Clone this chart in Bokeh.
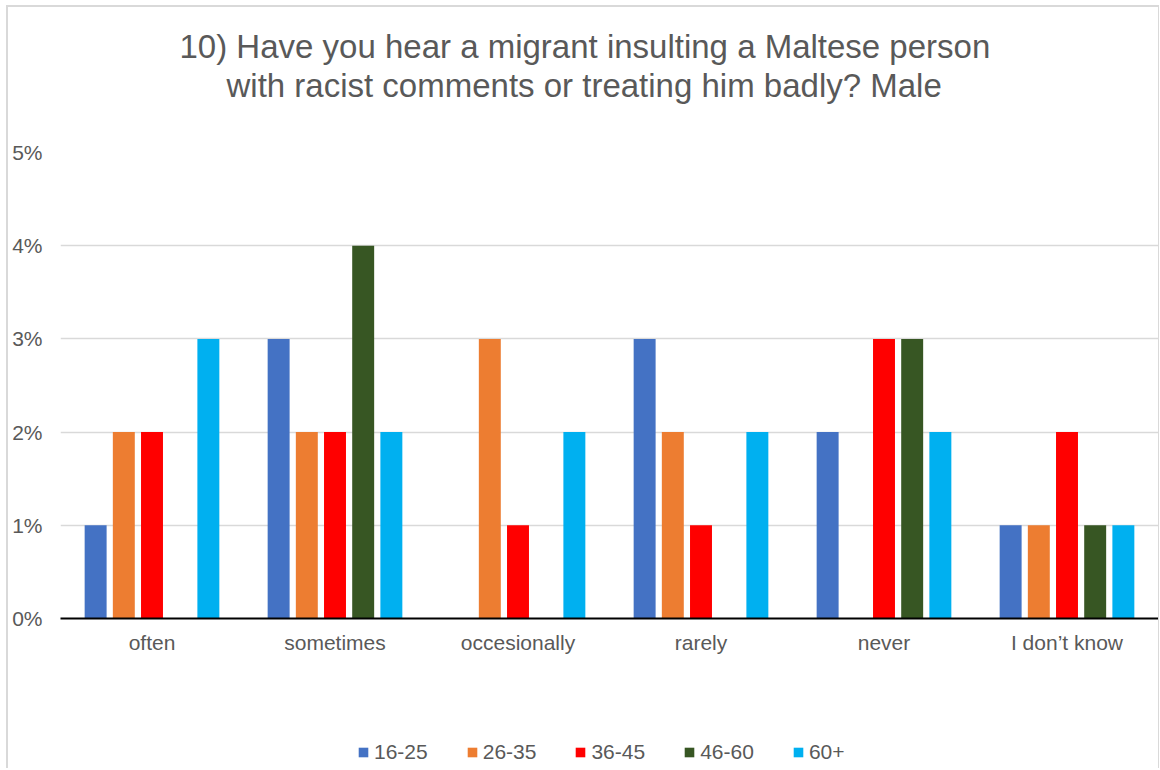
from bokeh.plotting import figure
from bokeh.layouts import column
from bokeh.models import (FactorRange, ColumnDataSource, Legend, LegendItem, Title,
                          NumeralTickFormatter, FixedTicker, Range1d)
from bokeh.transform import dodge
from bokeh.embed import file_html
from bokeh.resources import INLINE

categories = ["often", "sometimes", "occesionally", "rarely", "never", "I don\u2019t know"]
series_names = ["16-25", "26-35", "36-45", "46-60", "60+"]
v_16_25 = [1, 3, 0, 3, 2, 1]
v_26_35 = [2, 2, 3, 2, 0, 1]
v_36_45 = [2, 2, 1, 1, 3, 2]
v_46_60 = [0, 4, 0, 0, 3, 1]
v_60p = [3, 2, 2, 2, 2, 1]
colors = ["#4472C4", "#ED7D31", "#FF0000", "#375623", "#00B0F0"]
title_lines = ["10) Have you hear a migrant insulting a Maltese person",
               "with racist comments or treating him badly? Male"]

values = [v_16_25, v_26_35, v_36_45, v_46_60, v_60p]
data = {"cat": categories}
for name, vals in zip(series_names, values):
    data[name] = [v / 100 for v in vals]
source = ColumnDataSource(data)

FONT = "Liberation Sans"
GREY = "#595959"

p = figure(x_range=FactorRange(*categories), y_range=(0, 0.05),
           width=1150, height=693, output_backend="svg", toolbar_location=None,
           min_border_left=52, min_border_right=0, min_border_top=145, min_border_bottom=82)
p.title = None
spacer = Title(text="\u00a0", text_font=FONT, text_font_size="1px", standoff=46)
t2 = Title(text=title_lines[1], align="left", text_font=FONT, text_font_size="33px",
           text_color=GREY, text_font_style="normal", offset=166, standoff=0)
t1 = Title(text=title_lines[0], align="left", text_font=FONT, text_font_size="33px",
           text_color=GREY, text_font_style="normal", offset=119, standoff=0)
p.add_layout(spacer, "above")
p.add_layout(t2, "above")
p.add_layout(t1, "above")

offsets = [-0.308, -0.154, 0.0, 0.154, 0.308]
for name, col, off in zip(series_names, colors, offsets):
    p.vbar(x=dodge("cat", off, range=p.x_range), top=name, width=0.12,
           source=source, fill_color=col, line_color=None)

p.yaxis.ticker = FixedTicker(ticks=[0, 0.01, 0.02, 0.03, 0.04, 0.05])
p.yaxis.formatter = NumeralTickFormatter(format="0%")
p.yaxis.axis_line_color = None
p.yaxis.major_tick_line_color = None
p.yaxis.minor_tick_line_color = None
p.yaxis.major_tick_out = 0
p.yaxis.major_tick_in = 0
p.yaxis.minor_tick_out = 0
p.yaxis.major_label_text_font = FONT
p.yaxis.major_label_text_font_size = "21px"
p.yaxis.major_label_text_color = GREY
p.yaxis.major_label_standoff = 18

p.xaxis.axis_line_color = "black"
p.xaxis.axis_line_width = 2
p.xaxis.major_tick_line_color = None
p.xaxis.minor_tick_line_color = None
p.xaxis.major_tick_out = 0
p.xaxis.major_tick_in = 0
p.xaxis.minor_tick_out = 0
p.xaxis.major_label_text_font = FONT
p.xaxis.major_label_text_font_size = "21px"
p.xaxis.major_label_text_color = GREY
p.xaxis.major_label_standoff = 12

p.xgrid.grid_line_color = None
p.ygrid.grid_line_color = "#D9D9D9"
p.ygrid.grid_line_width = 1.5
p.outline_line_color = None

# legend strip
lf = figure(width=1150, height=68, output_backend="svg", toolbar_location=None,
            x_range=Range1d(0, 1), y_range=Range1d(0, 1),
            min_border_left=0, min_border_right=0, min_border_top=0, min_border_bottom=0)
lf.axis.visible = False
lf.grid.visible = False
lf.outline_line_color = None
hidden = ColumnDataSource(dict(x=[10], top=[10], bottom=[9]))
items = []
for name, col in zip(series_names, colors):
    r = lf.vbar(x="x", top="top", bottom="bottom", width=0.1, source=hidden,
                fill_color=col, line_color=None)
    items.append(LegendItem(label=name, renderers=[r]))
legend = Legend(items=items, orientation="horizontal", location=(297, 4),
                label_text_font=FONT, label_text_font_size="21px", label_text_color=GREY,
                glyph_width=12, glyph_height=12, spacing=38, label_standoff=5,
                border_line_color=None, background_fill_alpha=0, padding=0, margin=0)
lf.add_layout(legend, "center")

layout = column(p, lf, spacing=0)
layout.styles = {"margin-left": "6px", "margin-top": "5px",
                 "border-left": "2px solid #D9D9D9", "border-top": "2px solid #D9D9D9",
                 "border-right": "1px solid #D9D9D9"}

open("out.html", "w").write(file_html(layout, INLINE))
